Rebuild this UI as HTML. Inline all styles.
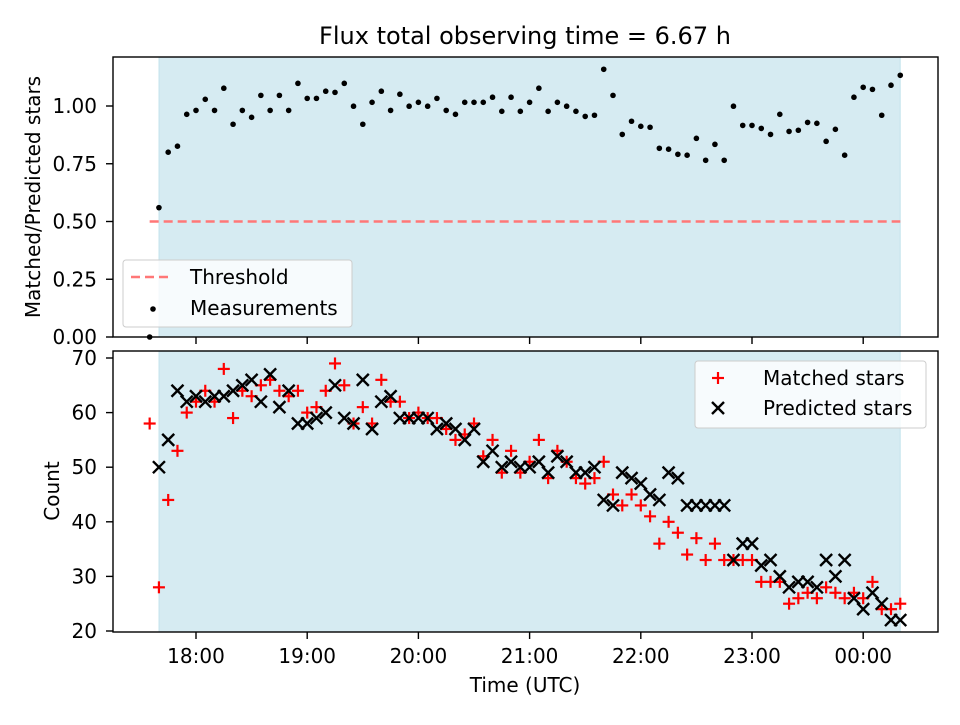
<!DOCTYPE html>
<html><head><meta charset="utf-8"><style>
body{margin:0;background:#fff;font-family:"Liberation Sans","DejaVu Sans",sans-serif}
svg text{font-family:"DejaVu Sans","Liberation Sans",sans-serif}
</style></head><body>
<svg id="c" width="960" height="720" xmlns="http://www.w3.org/2000/svg"></svg>
<script>
const startMinute = -25; // 17:35 relative to 18:00
const stepMinutes = 5;
const ratioValues = [0,0.56,0.80,0.826,0.964,0.981,1.029,0.981,1.077,0.921,0.981,0.951,1.046,0.981,1.046,0.981,1.098,1.033,1.033,1.064,1.059,1.098,0.999,0.921,1.016,1.064,0.981,1.051,0.999,1.016,0.999,1.033,0.981,0.964,1.016,1.016,1.016,1.038,0.977,1.038,0.977,1.016,1.077,0.977,1.016,0.999,0.977,0.955,0.960,1.159,1.046,0.877,0.934,0.912,0.908,0.817,0.813,0.791,0.787,0.860,0.765,0.834,0.765,0.999,0.916,0.916,0.903,0.877,0.964,0.890,0.895,0.929,0.925,0.847,0.899,0.787,1.038,1.081,1.072,0.960,1.090,1.133];
const matchedValues = [58,28,44,53,60,62,64,62,68,59,64,63,65,66,64,63,64,60,61,64,69,65,58,61,58,66,62,62,59,60,59,59,57,55,56,58,52,55,49,53,49,51,55,48,53,51,48,47,48,51,45,43,45,43,41,36,40,38,34,37,33,36,33,33,33,33,29,29,29,25,26,27,26,28,27,26,27,26,29,24,24,25];
const predictedValues = [null,50,55,64,62,63,62,63,63,64,65,66,62,67,61,64,58,58,59,60,65,59,58,66,57,62,63,59,59,59,59,57,58,57,55,57,51,53,50,51,50,50,51,49,52,51,49,49,50,44,43,49,48,47,45,44,49,48,43,43,43,43,43,33,36,36,32,33,30,28,29,29,28,33,30,33,26,24,27,25,22,22];
const xTickLabels = ["18:00","19:00","20:00","21:00","22:00","23:00","00:00"];
const topYTicks = [0,0.25,0.5,0.75,1.0];
const botYTicks = [20,30,40,50,60,70];
const threshold = 0.5;
const spanStart = -20, spanEnd = 380;

const NS="http://www.w3.org/2000/svg", svg=document.getElementById('c');
function el(t,a,p){const e=document.createElementNS(NS,t);for(const k in a)e.setAttribute(k,a[k]);(p||svg).appendChild(e);return e;}
const L=113,R=938;
const xS=m=>196+m*111.2/60;
const yTop=v=>337-v*231;
const yBot=v=>631-(v-20)*5.46;
const T1=57,B1=337,T2=351,B2=632;
const FS=20;

function axesFrame(top,bot,name){
  const g=el('g',{});
  
  
  el('rect',{x:L,y:top,width:R-L,height:bot-top,fill:'#fff'},g);
  const s=el('rect',{x:xS(spanStart),y:top,width:xS(spanEnd)-xS(spanStart),height:bot-top,fill:'#add8e6','fill-opacity':0.5,stroke:'#add8e6','stroke-opacity':0.6},g);
  
  
  return g;
}
function frameBorder(top,bot){el('rect',{x:L,y:top,width:R-L,height:bot-top,fill:'none',stroke:'#000','stroke-width':1.4});}

// Top axes
axesFrame(T1,B1,'ratio-axes');
const th=el('line',{x1:xS(startMinute),x2:xS(startMinute+stepMinutes*(ratioValues.length-1)),y1:yTop(threshold),y2:yTop(threshold),stroke:'#ff7777','stroke-width':2.5,'stroke-dasharray':'9,5'});


ratioValues.forEach((v,i)=>{
  const c=el('circle',{cx:xS(startMinute+i*stepMinutes),cy:yTop(v),r:2.8,fill:'#000'});
  
  
});
frameBorder(T1,B1);
topYTicks.forEach(v=>{
  const y=yTop(v);
  el('line',{x1:L-7,x2:L,y1:y,y2:y,stroke:'#000','stroke-width':1.4});
  const t=el('text',{x:L-16,y:y+7,'font-size':FS,'text-anchor':'end'});t.textContent=v.toFixed(2);
  
  
});
xTickLabels.forEach((s,i)=>{const x=xS(i*60);el('line',{x1:x,x2:x,y1:B1,y2:B1+7,stroke:'#000','stroke-width':1.4});});

// Top legend
const lg1=el('g',{});


el('rect',{x:123,y:260,width:229,height:67,rx:3,fill:'#fff','fill-opacity':0.8,stroke:'#ccc'},lg1);
el('line',{x1:131,x2:173,y1:277,y2:277,stroke:'#ff7777','stroke-width':2.5,'stroke-dasharray':'9,5'},lg1);
let t=el('text',{x:190,y:284,'font-size':FS},lg1);t.textContent='Threshold';
el('circle',{cx:153,cy:309,r:2.8,fill:'#000'},lg1);
t=el('text',{x:190,y:315,'font-size':FS},lg1);t.textContent='Measurements';

// Bottom axes
axesFrame(T2,B2,'count-axes');
function plus(x,y){const g=el('g',{stroke:'#f00','stroke-width':2.2});el('line',{x1:x-6,x2:x+6,y1:y,y2:y},g);el('line',{x1:x,x2:x,y1:y-6,y2:y+6},g);return g;}
function cross(x,y){const g=el('g',{stroke:'#000','stroke-width':2.4});el('line',{x1:x-6,x2:x+6,y1:y-6,y2:y+6},g);el('line',{x1:x-6,x2:x+6,y1:y+6,y2:y-6},g);return g;}
matchedValues.forEach((v,i)=>{
  const g=plus(xS(startMinute+i*stepMinutes),yBot(v));
  
  
});
predictedValues.forEach((v,i)=>{
  if(v===null)return;
  const g=cross(xS(startMinute+i*stepMinutes),yBot(v));
  
  
});
frameBorder(T2,B2);
botYTicks.forEach(v=>{
  const y=yBot(v);
  el('line',{x1:L-7,x2:L,y1:y,y2:y,stroke:'#000','stroke-width':1.4});
  const t=el('text',{x:L-16,y:y+7,'font-size':FS,'text-anchor':'end'});t.textContent=v;
  
  
});
xTickLabels.forEach((s,i)=>{
  const x=xS(i*60);
  el('line',{x1:x,x2:x,y1:B2,y2:B2+7,stroke:'#000','stroke-width':1.4});
  const t=el('text',{x:x,y:B2+31,'font-size':FS,'text-anchor':'middle'});t.textContent=s;
  
  
});
// Bottom legend
const lg2=el('g',{});


el('rect',{x:695,y:361,width:231,height:67,rx:3,fill:'#fff','fill-opacity':0.8,stroke:'#ccc'},lg2);
lg2.appendChild(plus(718,378));
t=el('text',{x:763,y:385,'font-size':FS},lg2);t.textContent='Matched stars';
lg2.appendChild(cross(718,408));
t=el('text',{x:763,y:415,'font-size':FS},lg2);t.textContent='Predicted stars';

// Titles
t=el('text',{x:525,y:44,'font-size':24,'text-anchor':'middle'});t.textContent='Flux total observing time = 6.67 h';

t=el('text',{x:0,y:0,'font-size':FS,'text-anchor':'middle',transform:'translate(40,197) rotate(-90)'});t.textContent='Matched/Predicted stars';

t=el('text',{x:0,y:0,'font-size':FS,'text-anchor':'middle',transform:'translate(59,491) rotate(-90)'});t.textContent='Count';

t=el('text',{x:525,y:692,'font-size':FS,'text-anchor':'middle'});t.textContent='Time (UTC)';

</script>
</body></html>
